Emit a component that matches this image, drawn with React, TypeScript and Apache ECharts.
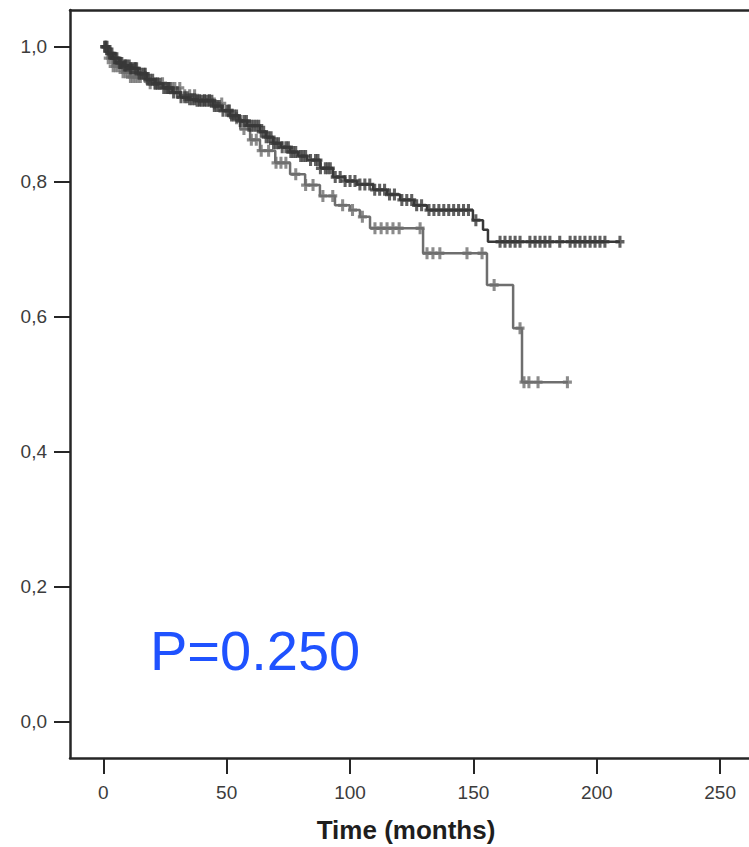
import React, { useEffect, useRef } from "react";
import * as echarts from "echarts";

// Kaplan-Meier curves (time in months, survival)
const darkTimes = [0, 2, 3.9, 6.5, 8.5, 10.8, 14, 17.6, 21, 24.2, 28, 31.1, 34.5, 37.9, 44.5, 48, 51.4, 55, 58.3, 63.5, 66, 68.9, 72, 75.7, 79, 82.6, 88, 93.1, 98, 102.8, 109.4, 115, 120.3, 126, 131.2, 149.8, 153.9, 155.9];
const darkSurv = [1.0, 0.99, 0.983, 0.976, 0.972, 0.968, 0.96, 0.951, 0.945, 0.939, 0.932, 0.925, 0.922, 0.92, 0.912, 0.905, 0.898, 0.89, 0.883, 0.874, 0.866, 0.857, 0.851, 0.844, 0.838, 0.832, 0.82, 0.807, 0.801, 0.796, 0.788, 0.781, 0.773, 0.765, 0.758, 0.743, 0.729, 0.711];
const darkEnd = 209.4;
const darkCensored = [0.5, 1, 1.5, 2.5, 3, 3.5, 4.5, 5, 5.5, 6.5, 7, 7.5, 8.5, 9, 9.5, 10.5, 11, 11.5, 12.5, 13, 13.5, 14.5, 15.5, 16.5, 17, 18, 19, 20, 21, 22, 23, 24.5, 25.5, 26.5, 27, 28.5, 30, 31.5, 33, 34, 35, 36, 37, 38, 39, 40, 41, 42, 43, 44, 45, 46, 47, 48.5, 50, 51, 52, 53, 54, 55.5, 57, 58, 59, 60, 61, 62, 63, 64, 65, 66, 67, 68, 69, 70, 71, 72.5, 74, 75, 76, 77, 78, 80, 81, 82, 84, 86, 87, 88, 90, 91, 92, 94, 96, 98, 100, 102, 104, 106, 108, 110, 112, 114, 116, 118, 121, 123, 125, 127, 129, 132, 134, 136, 138, 140, 142, 144, 146, 148, 151, 160.8, 162.8, 164.9, 166.9, 168.9, 172.9, 175, 177, 179, 181, 185, 189.2, 191.2, 193.2, 195.2, 197.3, 199.3, 201.3, 203.3, 209.4];

const lightTimes = [0, 1.9, 3.9, 7.6, 10.8, 17.6, 24.2, 31.1, 37.9, 44.5, 48.1, 51.4, 55.5, 59.5, 63.5, 69.7, 75.7, 81.8, 87.8, 93.9, 99.9, 104, 108.1, 129.6, 155.5, 166.1, 169.7];
const lightSurv = [1.0, 0.983, 0.971, 0.962, 0.955, 0.946, 0.939, 0.928, 0.921, 0.916, 0.906, 0.894, 0.878, 0.862, 0.846, 0.828, 0.811, 0.795, 0.779, 0.765, 0.758, 0.748, 0.731, 0.694, 0.647, 0.583, 0.503];
const lightEnd = 188.4;
const lightCensored = [1, 2, 3, 4, 5, 6, 7, 8, 9, 10, 11, 12, 13, 14, 15, 17, 19, 21, 22, 24, 26, 28, 29, 31, 33, 35, 37, 39, 41, 43, 45, 48, 51, 54, 57, 60, 62, 64, 67, 70, 72, 74, 78, 82, 85, 89, 93, 97, 101, 105, 110.1, 112.6, 115, 117.4, 119.9, 128.4, 131.2, 133.6, 136.4, 147.4, 153.5, 158.4, 168.9, 170.5, 172.5, 176.2, 188.1];

const xTicks = [0, 50, 100, 150, 200, 250];
const yTicks = [0, 0.2, 0.4, 0.6, 0.8, 1.0];
const xTitle = "Time (months)";
const pValueText = "P=0.250";

const X_MIN = -13.5;
const X_MAX = 261.7;
const Y_MIN = -0.0538;
const Y_MAX = 1.0544;

const DARK = "#383838";
const LIGHT = "#6e6e6e";
const AXIS = "#262626";
const PLUS = "path://M3.3,0 H6.7 V3.6 H10 V6.4 H6.7 V10 H3.3 V6.4 H0 V3.6 H3.3 Z";

function stepData(times: number[], surv: number[], end: number) {
  const d = times.map((t, i) => [t, surv[i]]);
  d.push([end, surv[surv.length - 1]]);
  return d;
}

function survAt(times: number[], surv: number[], t: number) {
  let v = surv[0];
  for (let i = 0; i < times.length; i++) {
    if (times[i] <= t) v = surv[i];
  }
  return v;
}

export default function App() {
  const ref = useRef<HTMLDivElement>(null);
  useEffect(() => {
    if (!ref.current) return;
    const chart = echarts.init(ref.current, undefined, { renderer: "svg" });
    const labelStyle = {
      fontFamily: "'Liberation Sans', Arial, sans-serif",
      fontSize: 19,
      color: "#3c3c3c",
    };
    chart.setOption({
      animation: false,
      backgroundColor: "#ffffff",
      grid: { left: 70, right: 0, top: 10, bottom: 89, containLabel: false },
      xAxis: [
        {
          type: "value",
          min: X_MIN,
          max: X_MAX,
          position: "bottom",
          axisLine: { show: true, onZero: false, lineStyle: { color: AXIS, width: 2.5 } },
          axisTick: { show: true, inside: false, length: 16, customValues: xTicks, lineStyle: { color: AXIS, width: 2 } },
          axisLabel: { show: true, customValues: xTicks, margin: 25, ...labelStyle },
          splitLine: { show: false },
        },
        {
          type: "value",
          min: X_MIN,
          max: X_MAX,
          position: "top",
          axisLine: { show: true, onZero: false, lineStyle: { color: AXIS, width: 2.5 } },
          axisTick: { show: false },
          axisLabel: { show: false },
          splitLine: { show: false },
        },
      ],
      yAxis: {
        type: "value",
        min: Y_MIN,
        max: Y_MAX,
        axisLine: { show: true, onZero: false, lineStyle: { color: AXIS, width: 2.5 } },
        axisTick: { show: true, inside: false, length: 16, customValues: yTicks, lineStyle: { color: AXIS, width: 2 } },
        axisLabel: {
          show: true,
          customValues: yTicks,
          margin: 23,
          formatter: (v: number) => v.toFixed(1).replace(".", ","),
          ...labelStyle,
        },
        splitLine: { show: false },
      },
      series: [
        {
          type: "line",
          step: "end",
          data: stepData(lightTimes, lightSurv, lightEnd),
          showSymbol: false,
          lineStyle: { color: LIGHT, width: 2.5 },
          z: 2,
        },
        {
          type: "scatter",
          data: lightCensored.map((t) => [t, survAt(lightTimes, lightSurv, t)]),
          symbol: PLUS,
          symbolSize: [9, 12],
          itemStyle: { color: LIGHT },
          z: 3,
        },
        {
          type: "line",
          step: "end",
          data: stepData(darkTimes, darkSurv, darkEnd),
          showSymbol: false,
          lineStyle: { color: DARK, width: 2.5 },
          z: 4,
        },
        {
          type: "scatter",
          data: darkCensored.map((t) => [t, survAt(darkTimes, darkSurv, t)]),
          symbol: PLUS,
          symbolSize: [9, 12],
          itemStyle: { color: DARK },
          z: 5,
        },
      ],
      graphic: [
        {
          type: "text",
          x: 406,
          y: 830,
          style: {
            text: xTitle,
            fontFamily: "'Liberation Sans', Arial, sans-serif",
            fontWeight: "bold",
            fontSize: 26,
            fill: "#1e1e1e",
            align: "center",
            verticalAlign: "middle",
          },
        },
        {
          type: "text",
          x: 150,
          y: 650,
          style: {
            text: pValueText,
            fontFamily: "'Liberation Sans', Arial, sans-serif",
            fontSize: 56,
            fill: "#1f52ff",
            align: "left",
            verticalAlign: "middle",
          },
        },
      ],
    });
    return () => chart.dispose();
  }, []);
  return (
    <div
      ref={ref}
      style={{ position: "absolute", left: 0, top: 0, width: 749, height: 847, background: "#fff" }}
    />
  );
}
